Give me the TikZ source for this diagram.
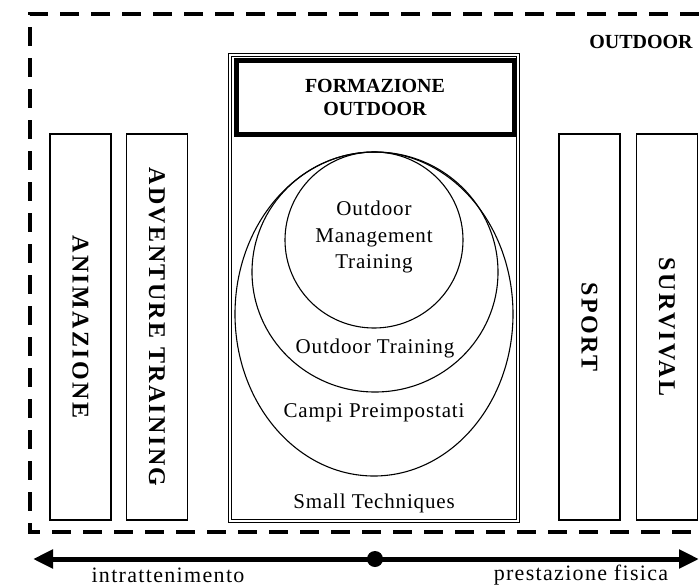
\documentclass[tikz,border=0pt]{standalone}
\usepackage{fontspec}
\usepackage{tikz}
\usetikzlibrary{arrows.meta}
\setmainfont{Liberation Serif}
\newfontfamily\bodyfont[LetterSpace=4]{Liberation Serif}
\newfontfamily\sidefont[LetterSpace=10]{Liberation Serif}
\newfontfamily\axisfont[LetterSpace=6]{Liberation Serif}

\begin{document}
\begin{tikzpicture}[x=1pt, y=-1pt, >={Triangle[length=20pt, width=18pt]},
    body/.style={font=\bodyfont\fontsize{21}{26.5}\selectfont, align=center},
    sidebox/.style={draw, line width=1.2pt, rotate=-90, minimum width=386pt, minimum height=61pt,
        inner sep=0pt, font=\sidefont\bfseries\fontsize{24}{28}\selectfont}]
    \useasboundingbox (0,0) rectangle (699,587);

    % Outer dashed frame
    \draw[line width=4pt, dash pattern=on 19pt off 12pt] (699,14) -- (30,14) -- (30,532) -- (699,532);
    \node[font=\bfseries\fontsize{20}{24}\selectfont] (outdoor) at (641,42) {OUTDOOR};

    % Side boxes
    \node[sidebox] (animazione) at (80.5,327) {ANIMAZIONE};
    \node[sidebox] (adventure) at (157,327) {ADVENTURE TRAINING};
    \node[sidebox] (sport) at (589.5,327) {SPORT};
    \node[sidebox] (survival) at (667,327) {SURVIVAL};

    % Formazione outdoor
    \draw[double, double distance=2.5pt, line width=0.8pt] (230,55) rectangle (518,521);
    \node[draw, line width=5pt, minimum width=278pt, minimum height=74pt, align=center,
        font=\bfseries\fontsize{20}{23}\selectfont] (formazione) at (375,97) {FORMAZIONE\\OUTDOOR};

    % Nested circles
    \draw[line width=1.1pt] (374,314) ellipse [x radius=139, y radius=162];
    \draw[line width=1.1pt] (375,272) ellipse [x radius=123, y radius=120];
    \draw[line width=1.1pt] (374,240) ellipse [x radius=89, y radius=88];
    \node[body] (omt) at (374,237) {Outdoor\\Management\\Training};
    \node[body] (training) at (375,348) {Outdoor Training};
    \node[body] (campi) at (374,413) {Campi Preimpostati};
    \node[body] (small) at (374,503) {Small Techniques};

    % Axis
    \coordinate (left) at (33,559);
    \coordinate (right) at (699,559);
    \node[circle, fill, inner sep=0pt, minimum size=16pt] (mid) at (375,559) {};
    \draw[<->, line width=5pt] (left) -- (right);
    \node[font=\axisfont\fontsize{22}{24}\selectfont, inner sep=1pt] (intratt) at (168,575) {intrattenimento};
    \node[font=\axisfont\fontsize{22}{24}\selectfont, inner sep=1pt] (prestazione) at (581,575) {prestazione fisica};
\end{tikzpicture}
\end{document}
